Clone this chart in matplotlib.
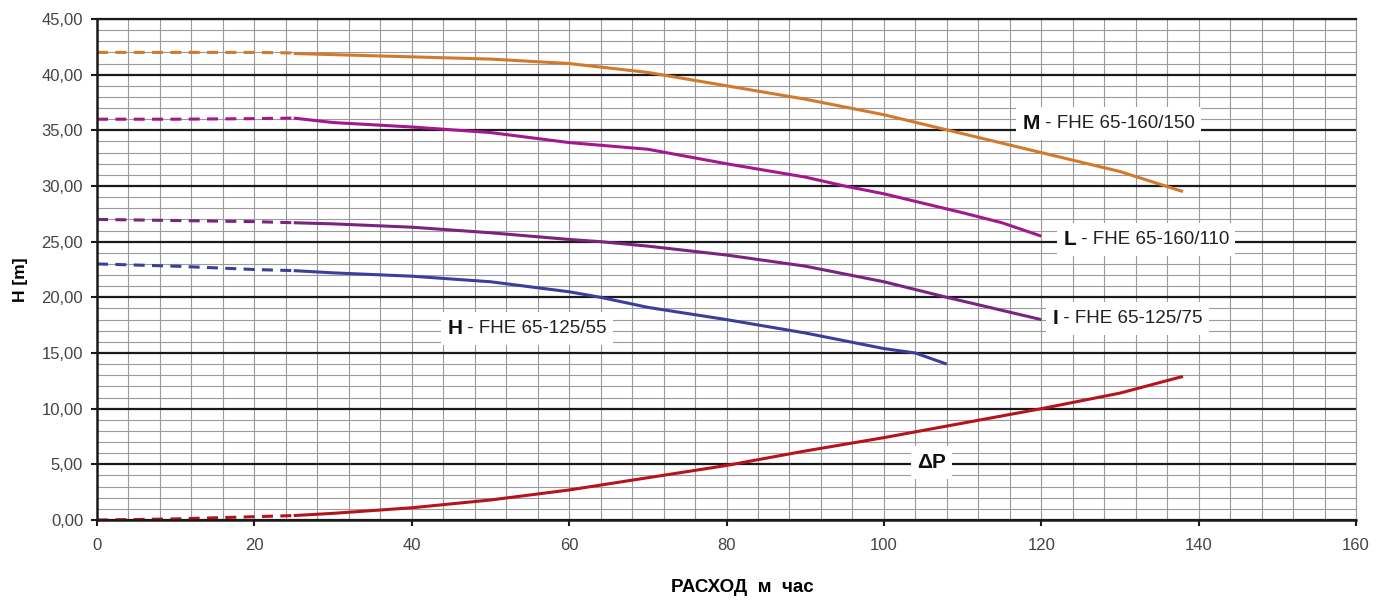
import numpy as np
import matplotlib
matplotlib.use('Agg')
from matplotlib import pyplot as plt
from matplotlib.patches import Rectangle
from matplotlib.transforms import Bbox

plt.rcParams['font.family'] = ['Liberation Sans', 'DejaVu Sans']

# flow, m3/h
q_dash = [0, 10, 20, 25]
q_m = [25, 30, 40, 50, 60, 70, 80, 90, 100, 110, 120, 130, 138]
q_l = [25, 30, 40, 50, 60, 70, 80, 90, 95, 100, 110, 115, 120]
q_i = [25, 30, 40, 50, 60, 64, 70, 80, 90, 100, 108, 114, 120]
q_h = [25, 30, 40, 50, 60, 64, 70, 80, 90, 100, 104, 108]
q_dp = [25, 30, 40, 50, 60, 70, 80, 90, 100, 110, 120, 130, 138]

# head, m
m_dash = [42.0, 42.0, 42.0, 41.95]
m_head = [41.9, 41.8, 41.6, 41.4, 41.0, 40.2, 39.0, 37.8, 36.4, 34.7, 33.0, 31.3, 29.5]
l_dash = [36.0, 36.0, 36.05, 36.1]
l_head = [36.1, 35.7, 35.3, 34.8, 33.9, 33.3, 32.0, 30.8, 30.0, 29.3, 27.6, 26.7, 25.5]
i_dash = [27.0, 26.9, 26.8, 26.7]
i_head = [26.7, 26.6, 26.3, 25.8, 25.2, 25.0, 24.6, 23.8, 22.8, 21.4, 20.0, 19.0, 18.0]
h_dash = [23.0, 22.8, 22.5, 22.4]
h_head = [22.4, 22.2, 21.9, 21.4, 20.5, 20.0, 19.1, 18.0, 16.8, 15.4, 15.0, 14.0]
dp_dash = [0.0, 0.1, 0.3, 0.4]
dp_head = [0.4, 0.6, 1.1, 1.8, 2.7, 3.8, 4.9, 6.2, 7.4, 8.7, 10.0, 11.4, 12.9]

x_ticks = [0, 20, 40, 60, 80, 100, 120, 140, 160]
y_ticks = [0, 5, 10, 15, 20, 25, 30, 35, 40, 45]

fig = plt.figure(figsize=(13.86, 6.03), dpi=100)
ax = fig.add_axes([0.07, 0.1376, 0.9084, 0.8309])

# grid
ax.set_xlim(0, 160)
ax.set_ylim(0, 45)
ax.set_xticks(x_ticks)
ax.set_xticks(np.arange(0, 161, 4), minor=True)
ax.set_yticks(y_ticks)
ax.set_yticks(np.arange(0, 46, 1), minor=True)
ax.set_yticklabels([('%.2f' % v).replace('.', ',') for v in y_ticks])
ax.grid(which='minor', axis='both', color='#9a9a9a', lw=0.8)
ax.grid(which='major', axis='x', color='#9a9a9a', lw=0.8)
ax.grid(which='major', axis='y', color='#1a1a1a', lw=1.6)
ax.set_axisbelow(True)
ax.tick_params(which='minor', length=0)
ax.tick_params(which='major', length=4, width=1.5, colors='#1a1a1a',
               labelcolor='#444444', labelsize=12, pad=6)
ax.tick_params(axis='x', pad=9)
for s in ['left', 'bottom']:
    ax.spines[s].set_linewidth(1.8)
    ax.spines[s].set_color('#1a1a1a')
ax.spines['top'].set_linewidth(1.6)
ax.spines['top'].set_color('#1a1a1a')
ax.spines['right'].set_linewidth(0.8)
ax.spines['right'].set_color('#9a9a9a')

curves = [
    (m_dash, q_m, m_head, '#d17a2c'),
    (l_dash, q_l, l_head, '#a3188e'),
    (i_dash, q_i, i_head, '#7a2380'),
    (h_dash, q_h, h_head, '#3b3f9c'),
    (dp_dash, q_dp, dp_head, '#b5141e'),
]
for dash, q, head, c in curves:
    ax.plot(q_dash, dash, color=c, lw=2.2, dashes=(3.6, 2.4))
    ax.plot(q, head, color=c, lw=2.2, solid_capstyle='butt')

# curve labels: bold letter + regular text, on one white box
labels = [
    ('M', ' - FHE 65-160/150', 117.6, 35.6),
    ('L', ' - FHE 65-160/110', 122.8, 25.2),
    ('I', ' - FHE 65-125/75', 121.4, 18.1),
    ('H', ' - FHE 65-125/55', 44.5, 17.2),
    ('ΔP', '', 104.2, 5.2),
]
pairs = []
for big, rest, x, y in labels:
    t = ax.text(x, y, big, fontsize=15, fontweight='bold', color='#111111',
                va='center', ha='left', zorder=6)
    parts = [t]
    if rest:
        parts.append(ax.annotate(rest, xy=(1, 0.5), xycoords=t, va='center',
                                 ha='left', fontsize=13.5, color='#222222',
                                 zorder=6))
    pairs.append(parts)

fig.canvas.draw()
r = fig.canvas.get_renderer()
inv = ax.transData.inverted()
for parts in pairs:
    bb = Bbox.union([p.get_window_extent(r) for p in parts])
    bb = Bbox.from_extents(bb.x0 - 6, bb.y0 - 7, bb.x1 + 6, bb.y1 + 7)
    (x0, y0), (x1, y1) = inv.transform([[bb.x0, bb.y0], [bb.x1, bb.y1]])
    ax.add_patch(Rectangle((x0, y0), x1 - x0, y1 - y0, facecolor='white',
                           edgecolor='none', zorder=5))

ax.set_ylabel('H [m]', fontsize=12.5, fontweight='bold')
ax.yaxis.set_label_coords(-0.055, 0.48)
fig.text(742 / 1386, 1 - 588 / 603, 'РАСХОД  м  час', fontsize=13.5,
         fontweight='bold', ha='center', va='center')

fig.savefig('out.png', dpi=100)
